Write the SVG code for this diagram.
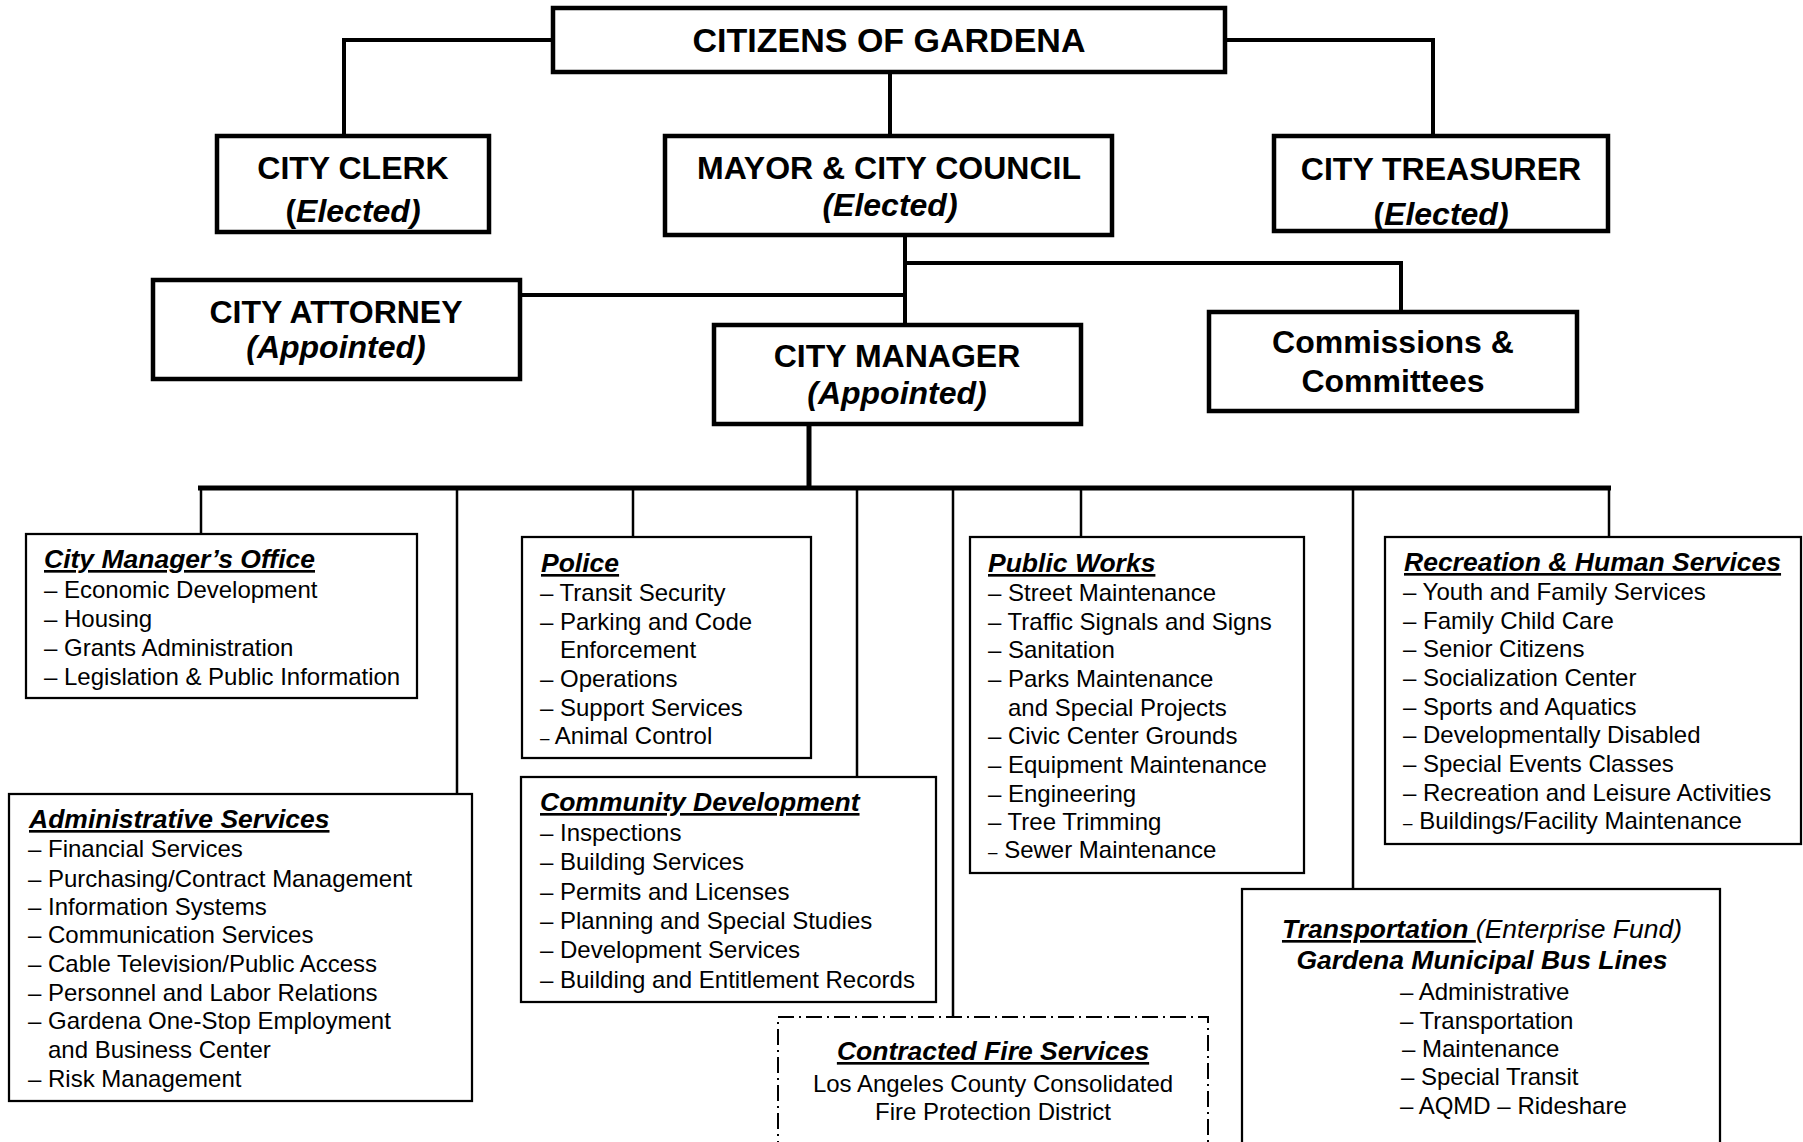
<svg xmlns="http://www.w3.org/2000/svg" width="1803" height="1142" viewBox="0 0 1803 1142">
  <style>
    .bg { fill: #ffffff; }
    .box-main { fill: #ffffff; stroke: #000000; stroke-width: 4.5; }
    .box-dept { fill: #ffffff; stroke: #000000; stroke-width: 2.25; }
    .box-fire { fill: #ffffff; stroke: #000000; stroke-width: 2; stroke-dasharray: 16 5 2 5; }
    .ln { fill: none; stroke: #000000; stroke-width: 4; }
    .ln-bus { fill: none; stroke: #000000; stroke-width: 5; }
    .ln-br { fill: none; stroke: #000000; stroke-width: 2.5; }
    text { font-family: "Liberation Sans", Arial, sans-serif; fill: #000000; }
    .t-main { font-size: 32px; font-weight: bold; text-anchor: middle; }
    .t-top { font-size: 34px; font-weight: bold; text-anchor: middle; }
    .t-sub { font-size: 32px; font-weight: bold; font-style: italic; text-anchor: middle; }
    .up { font-style: normal; }
    .t-head { font-size: 26.5px; font-weight: bold; font-style: italic; text-decoration: underline; }
    .t-bold { font-size: 26.5px; font-weight: bold; font-style: italic; }
    .t-note { font-size: 26.5px; font-style: italic; }
    .ul { font-weight: bold; text-decoration: underline; }
    .t-item { font-size: 24px; }
    .t-mid { text-anchor: middle; }
    .sd { font-size: 17px; }
  </style>

  <rect class="bg" x="0" y="0" width="1803" height="1142"/>

  <!-- reporting lines -->
  <g id="connectors">
    <path class="ln" d="M553,40 H344 V136"/>
    <path class="ln" d="M1225,40 H1433 V136"/>
    <path class="ln" d="M890,72 V136"/>
    <path class="ln" d="M905,235 V325"/>
    <path class="ln" d="M520,295 H905"/>
    <path class="ln" d="M905,263 H1401 V312"/>
    <path class="ln-bus" d="M809,424 V488"/>
    <path class="ln-bus" d="M198,488 H1611"/>
    <path class="ln-br" d="M201,488 V534"/>
    <path class="ln-br" d="M457,488 V794"/>
    <path class="ln-br" d="M633,488 V537"/>
    <path class="ln-br" d="M857,488 V777"/>
    <path class="ln-br" d="M953,488 V1017"/>
    <path class="ln-br" d="M1081,488 V537"/>
    <path class="ln-br" d="M1353,488 V889"/>
    <path class="ln-br" d="M1609,488 V537"/>
  </g>

  <g id="citizens">
    <rect class="box-main" x="553" y="8" width="672" height="64"/>
    <text class="t-top" x="889" y="52">CITIZENS OF GARDENA</text>
  </g>

  <g id="city-clerk">
    <rect class="box-main" x="217" y="136" width="272" height="96"/>
    <text class="t-main" x="353" y="179">CITY CLERK</text>
    <text class="t-sub" x="353" y="222"><tspan class="up">(</tspan>Elected)</text>
  </g>

  <g id="mayor-council">
    <rect class="box-main" x="665" y="136" width="447" height="99"/>
    <text class="t-main" x="889" y="179">MAYOR &amp; CITY COUNCIL</text>
    <text class="t-sub" x="890" y="216">(Elected)</text>
  </g>

  <g id="city-treasurer">
    <rect class="box-main" x="1274" y="136" width="334" height="95"/>
    <text class="t-main" x="1441" y="180">CITY TREASURER</text>
    <text class="t-sub" x="1441" y="225"><tspan class="up">(</tspan>Elected)</text>
  </g>

  <g id="city-attorney">
    <rect class="box-main" x="153" y="280" width="367" height="99"/>
    <text class="t-main" x="336" y="323">CITY ATTORNEY</text>
    <text class="t-sub" x="336" y="358">(Appointed)</text>
  </g>

  <g id="city-manager">
    <rect class="box-main" x="714" y="325" width="367" height="99"/>
    <text class="t-main" x="897" y="367">CITY MANAGER</text>
    <text class="t-sub" x="897" y="404">(Appointed)</text>
  </g>

  <g id="commissions">
    <rect class="box-main" x="1209" y="312" width="368" height="99"/>
    <text class="t-main" x="1393" y="353">Commissions &amp;</text>
    <text class="t-main" x="1393" y="392">Committees</text>
  </g>

  <g id="city-managers-office">
    <rect class="box-dept" x="26" y="534" width="391" height="164"/>
    <text class="t-head" x="44" y="568">City Manager’s Office</text>
    <text class="t-item" x="44" y="598">– Economic Development</text>
    <text class="t-item" x="44" y="627">– Housing</text>
    <text class="t-item" x="44" y="656">– Grants Administration</text>
    <text class="t-item" x="44" y="685">– Legislation &amp; Public Information</text>
  </g>

  <g id="police">
    <rect class="box-dept" x="522" y="537" width="289" height="221"/>
    <text class="t-head" x="541" y="572">Police</text>
    <text class="t-item" x="540" y="601">– Transit Security</text>
    <text class="t-item" x="540" y="630">– Parking and Code</text>
    <text class="t-item" x="560" y="658">Enforcement</text>
    <text class="t-item" x="540" y="687">– Operations</text>
    <text class="t-item" x="540" y="716">– Support Services</text>
    <text class="t-item" x="540" y="744"><tspan class="sd">–</tspan> Animal Control</text>
  </g>

  <g id="community-development">
    <rect class="box-dept" x="521" y="777" width="415" height="225"/>
    <text class="t-head" x="540" y="811">Community Development</text>
    <text class="t-item" x="540" y="841">– Inspections</text>
    <text class="t-item" x="540" y="870">– Building Services</text>
    <text class="t-item" x="540" y="900">– Permits and Licenses</text>
    <text class="t-item" x="540" y="929">– Planning and Special Studies</text>
    <text class="t-item" x="540" y="958">– Development Services</text>
    <text class="t-item" x="540" y="988">– Building and Entitlement Records</text>
  </g>

  <g id="public-works">
    <rect class="box-dept" x="970" y="537" width="334" height="336"/>
    <text class="t-head" x="988" y="572">Public Works</text>
    <text class="t-item" x="988" y="601">– Street Maintenance</text>
    <text class="t-item" x="988" y="630">– Traffic Signals and Signs</text>
    <text class="t-item" x="988" y="658">– Sanitation</text>
    <text class="t-item" x="988" y="687">– Parks Maintenance</text>
    <text class="t-item" x="1008" y="716">and Special Projects</text>
    <text class="t-item" x="988" y="744">– Civic Center Grounds</text>
    <text class="t-item" x="988" y="773">– Equipment Maintenance</text>
    <text class="t-item" x="988" y="802">– Engineering</text>
    <text class="t-item" x="988" y="830">– Tree Trimming</text>
    <text class="t-item" x="988" y="858"><tspan class="sd">–</tspan> Sewer Maintenance</text>
  </g>

  <g id="recreation-human-services">
    <rect class="box-dept" x="1385" y="537" width="416" height="307"/>
    <text class="t-head" x="1404" y="571">Recreation &amp; Human Services</text>
    <text class="t-item" x="1403" y="600">– Youth and Family Services</text>
    <text class="t-item" x="1403" y="629">– Family Child Care</text>
    <text class="t-item" x="1403" y="657">– Senior Citizens</text>
    <text class="t-item" x="1403" y="686">– Socialization Center</text>
    <text class="t-item" x="1403" y="715">– Sports and Aquatics</text>
    <text class="t-item" x="1403" y="743">– Developmentally Disabled</text>
    <text class="t-item" x="1403" y="772">– Special Events Classes</text>
    <text class="t-item" x="1403" y="801">– Recreation and Leisure Activities</text>
    <text class="t-item" x="1403" y="829"><tspan class="sd">–</tspan> Buildings/Facility Maintenance</text>
  </g>

  <g id="administrative-services">
    <rect class="box-dept" x="9" y="794" width="463" height="307"/>
    <text class="t-head" x="29" y="828">Administrative Services</text>
    <text class="t-item" x="28" y="857">– Financial Services</text>
    <text class="t-item" x="28" y="887">– Purchasing/Contract Management</text>
    <text class="t-item" x="28" y="915">– Information Systems</text>
    <text class="t-item" x="28" y="943">– Communication Services</text>
    <text class="t-item" x="28" y="972">– Cable Television/Public Access</text>
    <text class="t-item" x="28" y="1001">– Personnel and Labor Relations</text>
    <text class="t-item" x="28" y="1029">– Gardena One-Stop Employment</text>
    <text class="t-item" x="48" y="1058">and Business Center</text>
    <text class="t-item" x="28" y="1087">– Risk Management</text>
  </g>

  <g id="contracted-fire">
    <rect class="box-fire" x="778" y="1017" width="430" height="200"/>
    <text class="t-head t-mid" x="993" y="1060">Contracted Fire Services</text>
    <text class="t-item t-mid" x="993" y="1092">Los Angeles County Consolidated</text>
    <text class="t-item t-mid" x="993" y="1120">Fire Protection District</text>
  </g>

  <g id="transportation">
    <rect class="box-dept" x="1242" y="889" width="478" height="300"/>
    <text class="t-note t-mid" x="1482" y="938" style="white-space:pre"><tspan class="ul">Transportation </tspan>(Enterprise Fund)</text>
    <text class="t-bold t-mid" x="1482" y="969">Gardena Municipal Bus Lines</text>
    <text class="t-item" x="1400" y="1000">– Administrative</text>
    <text class="t-item" x="1400" y="1029">– Transportation</text>
    <text class="t-item" x="1402" y="1057">– Maintenance</text>
    <text class="t-item" x="1401" y="1085">– Special Transit</text>
    <text class="t-item" x="1400" y="1114">– AQMD – Rideshare</text>
  </g>
</svg>
